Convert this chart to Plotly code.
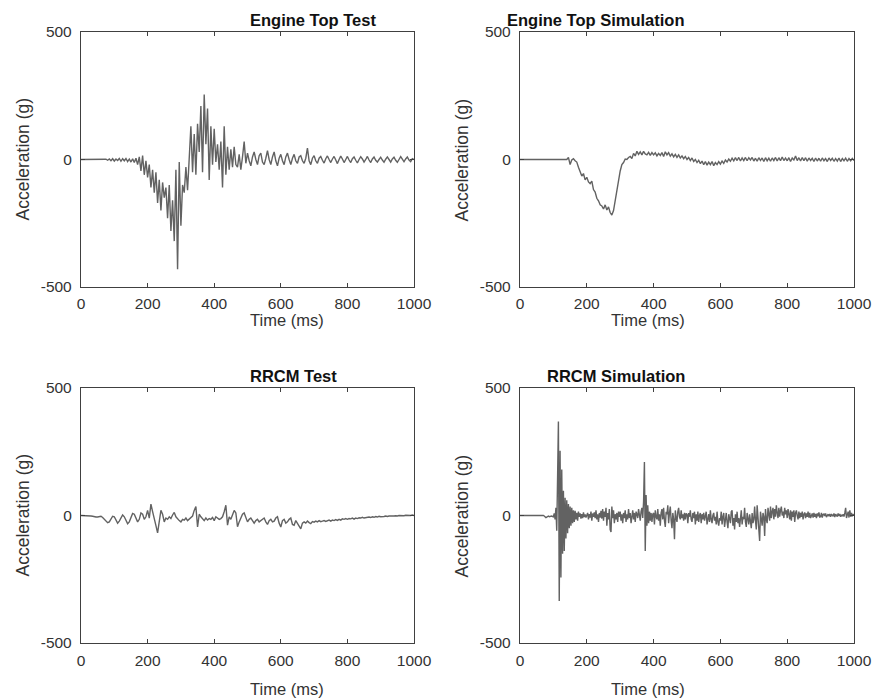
import numpy as np
import plotly.graph_objects as go

# time axis in ms (5 ms steps)
time_ms = list(range(0, 1001, 5))
# finer time axis for the RRCM simulation trace (2.5 ms steps)
time_ms_fine = [i * 2.5 for i in range(401)]

engine_top_test = [
    0, 0, 1, 0, 0, 1, 0, 0, 1, 0, 0, 1, 0, -1, 0, 1, -3, 2, -5, 3,
    -6, 2, -4, 4, -7, 3, -5, 4, -8, 2, -10, 3, -12, 5, -20, 10, -45, 15, -60, -5,
    -70, -20, -110, -40, -130, -50, -170, -80, -200, -90, -150, -110, -230, -100, -280, -160, -320, -40, -430, -10,
    -260, -100, -130, -30, -120, 30, 130, -50, 100, -60, 140, 30, 210, -50, 255, 60, 200, -80, 130, -20,
    120, -10, 60, -40, 70, -110, 130, -60, 50, -40, 40, -30, 50, -20, -30, 20, -40, 10, 70, -15,
    25, -5, -25, 10, 30, 0, -20, 15, 25, -10, -20, 5, 35, 0, -20, 10, 30, -5, -25, 5,
    20, -5, -20, 10, 25, 0, -20, 5, 20, -5, -15, 10, 15, -5, -15, 5, 45, -5, -20, 5,
    15, -5, -15, 5, 12, -3, -14, 3, 14, 0, -12, 2, 12, -2, -16, 0, 13, 2, -12, 0,
    12, -2, -12, 3, 10, -3, -13, 0, 11, 2, -10, 0, 12, -2, -12, 2, 10, -3, -10, 0,
    9, -2, -11, 1, 10, 0, -10, 2, 9, -3, -11, 0, 11, 1, -9, 2, 10, -2, -8, 3,
    0,
]

engine_top_sim = [
    0, 0, 0, 0, 0, 0, 0, 0, 0, 0, 0, 0, 0, 0, 0, 0, 0, 0, 0, 0,
    0, 0, 0, 0, 0, 0, 0, 0, 0, 8, -20, -2, 3, -5, -10, -30, -45, -65, -55, -80,
    -70, -88, -95, -85, -118, -128, -152, -162, -178, -182, -194, -178, -198, -186, -208, -218, -200, -160, -110, -70,
    -45, -20, -12, 2, 0, 8, 12, 4, 24, 14, 32, 20, 30, 18, 32, 22, 18, 28, 16, 27,
    18, 26, 14, 24, 16, 27, 12, 30, 18, 27, 13, 22, 10, 20, 8, 18, 6, 14, 3, 12,
    0, 8, -4, 6, -8, 0, -12, -3, -16, -6, -20, -8, -22, -10, -20, -8, -24, -12, -20, -8,
    -18, -6, -15, -2, -10, 2, -7, 5, -5, 7, -4, 8, -6, 6, -4, 8, -5, 7, -2, 8,
    -6, 5, -7, 7, -4, 6, -8, 7, -5, 5, -7, 6, -4, 8, -6, 7, -5, 10, -4, 6,
    -5, 7, -8, 6, -2, 14, -4, 7, -6, 8, -5, 7, -7, 6, -4, 5, -8, 6, -6, 5,
    -7, 6, -5, 4, -8, 6, -4, 5, -7, 4, -6, 6, -8, 4, -5, 5, -7, 4, -5, 4,
    -4,
]

rrcm_test = [
    0, 0, 0, 0, 0, -1, -2, -3, -5, -6, -6, -5, -3, -8, -15, -22, -28, -25, -12, -3,
    -5, -18, -30, -22, -8, 2, -5, -20, -32, -25, -5, 8, 5, -10, -25, -15, 10, 5, -15, -5,
    20, -10, 45, 15, -20, -40, -68, -20, 20, 5, -25, -10, -15, -5, -12, 2, 12, -5, -15, -20,
    -25, -15, -18, -10, -20, -15, -8, -2, 20, 35, -45, 5, -5, -15, -20, -10, -18, -12, -15, -8,
    -20, -5, -10, -15, -12, -5, 15, 40, -38, -5, -15, 5, 20, 10, -44, -25, -10, 5, 10, -5,
    -25, -15, -10, -20, -30, -20, -15, -25, -20, -15, -10, -25, -35, -20, -15, -25, -22, -10, -5, -30,
    -45, -20, -15, -30, -25, -15, -10, -35, -38, -20, -30, -45, -52, -30, -25, -30, -22, -28, -32, -24,
    -26, -22, -25, -20, -24, -22, -20, -23, -20, -18, -22, -18, -20, -16, -19, -15, -18, -13, -15, -12,
    -15, -12, -13, -10, -14, -10, -12, -9, -10, -7, -10, -8, -9, -6, -8, -5, -7, -4, -6, -3,
    -5, -3, -4, -2, -4, -2, -3, -1, -2, -1, -2, 0, -1, 0, -1, 1, 0, 1, 0, 2,
    0,
]

# RRCM simulation, 2.5 ms steps (40 values per 100 ms)
rrcm_sim = [
    0, 0, 0, 0, 0, 0, 0, 0, 0, 0, 0, 1, 0, 0, 0, 0, 0, -1, 0, 0,
    0, 0, 0, 0, 0, 0, 0, 0, 0, -2, -4, -8, -6, -3, -2, -5, -3, -1, -2, -4,
    -5, 8, -15, 30, -60, 150, 369, -335, 254, -243, 180, -150, 97, -139, 70, -90, 60, -70, 45, -50,
    35, -40, 30, -30, 20, -25, 18, -15, 10, -20, 15, -5, 8, -12, 5, -10, 12, -6, 4, -8,
    -2, 10, -15, 5, -8, 15, -20, 8, -5, 12, -10, 20, -15, 5, -25, 10, -8, 18, -12, 25,
    -20, 15, -5, 30, -40, 10, -15, 25, -55, -65, 35, -10, 20, -30, 5, -15, 10, -25, 15, -5,
    15, -20, 5, -30, 10, -10, 20, -25, 5, -15, 25, -10, 10, -30, -5, 20, -15, 10, -25, 15,
    5, -10, 25, -5, -20, 15, 30, -10, 55, 210, -139, 80, -40, 40, -30, 15, -20, 10, -25, 5,
    10, -35, 20, -5, -15, 25, -20, 5, -40, 10, 25, -15, 30, -20, -45, 15, 5, 40, -30, 10,
    35, -20, -50, 10, -15, -93, 20, -10, -25, 15, 30, -5, -15, 20, -10, 5, -20, 10, -15, 8,
    5, -30, 10, -5, 20, -15, -25, 10, -10, 15, -35, 5, -20, 15, -25, 0, 10, -30, 5, -15,
    10, -20, -5, 15, -35, -10, 5, -25, 20, -15, -30, 0, 10, -20, -5, -35, 15, -25, -40, -10,
    -20, 15, -35, -5, 10, -45, -15, 10, -25, -50, 5, -20, -30, 15, 20, -40, -10, -55, 5, -25,
    15, -30, -10, -45, -20, 20, -35, -5, -15, 30, -25, -45, 10, -20, -35, 5, -15, -50, 10, -30,
    -15, 35, -20, -55, 40, -10, -30, -100, 15, -20, -40, 10, -5, -80, 25, -15, -30, 30, 5, -20,
    35, -10, 15, 30, -15, 25, -5, 40, 10, -10, 30, -5, 20, 35, 0, 15, -10, 30, 5, 20,
    -10, 25, 5, -15, 20, -20, 15, -5, 20, -25, 10, 20, 0, -15, 15, -10, 10, -5, 15, -15,
    5, 12, -10, 8, -5, 15, -8, 10, -10, 5, 8, -8, 10, -5, 6, -10, 8, -3, 12, -6,
    -5, 10, -8, 4, 6, -2, 8, -6, 3, 5, -3, 6, -5, 4, 2, -3, 8, -6, 5, -2,
    -4, 8, -2, 6, -5, 3, -3, 5, -4, 10, 30, -10, 5, 15, -8, 20, -5, 10, -3, 5,
    0,
]

titles = ["Engine Top Test", "Engine Top Simulation", "RRCM Test", "RRCM Simulation"]
series = [engine_top_test, engine_top_sim, rrcm_test, rrcm_sim]
times = [time_ms, time_ms, time_ms, time_ms_fine]
x_ticks = [0, 200, 400, 600, 800, 1000]
y_ticks = [-500, 0, 500]
x_label = "Time (ms)"
y_label = "Acceleration (g)"

W, H = 876, 700
boxes = [  # left, right, top, bottom in pixels
    (81, 414, 32, 287),
    (520, 854, 32, 287),
    (81, 414, 388, 643),
    (520, 854, 388, 643),
]
title_y = [20, 20, 376, 376]
xlabel_y = [320, 320, 689, 689]
xtick_standoff = [2, 2, 3, 3]

fig = go.Figure()
font_family = "Liberation Sans, Arial, sans-serif"
axis_color = "#404040"
text_color = "#333333"
for i, (tx, vals, title, box) in enumerate(zip(times, series, titles, boxes)):
    n = i + 1
    xa = "x" if n == 1 else f"x{n}"
    ya = "y" if n == 1 else f"y{n}"
    fig.add_trace(go.Scatter(x=tx, y=vals, mode="lines",
                             line=dict(color="#626262", width=1.4),
                             xaxis=xa, yaxis=ya, showlegend=False))
    l, r, t, b = box
    xkey = "xaxis" if n == 1 else f"xaxis{n}"
    ykey = "yaxis" if n == 1 else f"yaxis{n}"
    common = dict(showline=True, linecolor=axis_color, linewidth=1.3, mirror="ticks",
                  ticks="inside", ticklen=4, tickcolor=axis_color, tickwidth=1,
                  showgrid=False, zeroline=False, automargin=False,
                  tickfont=dict(family=font_family, size=15.5, color=text_color))
    fig.update_layout(**{
        xkey: dict(domain=[l / W, r / W], anchor=ya, range=[0, 1000],
                   tickvals=x_ticks, ticktext=[str(v) for v in x_ticks],
                   ticklabelstandoff=xtick_standoff[i], **common),
        ykey: dict(domain=[1 - b / H, 1 - t / H], anchor=xa, range=[-500, 500],
                   tickvals=y_ticks, ticktext=[str(v) for v in y_ticks],
                   ticklabelstandoff=5, **common),
    })
    # subplot title
    fig.add_annotation(x=(l + r) / 2 / W, y=1 - title_y[i] / H,
                       xref="paper", yref="paper",
                       text=f"<b>{title}</b>", showarrow=False, yanchor="middle",
                       font=dict(family=font_family, size=16.5, color="#111111"))
    # x axis label
    fig.add_annotation(x=(l + r) / 2 / W, y=1 - xlabel_y[i] / H, xref="paper", yref="paper",
                       text=x_label, showarrow=False, yanchor="middle",
                       font=dict(family=font_family, size=16.5, color=text_color))
    # y axis label
    fig.add_annotation(x=(l - 59) / W, y=1 - (t + b) / 2 / H, xref="paper", yref="paper",
                       text=y_label, showarrow=False, textangle=-90,
                       xanchor="center", yanchor="middle",
                       font=dict(family=font_family, size=17.5, color=text_color))

fig.update_layout(width=W, height=H, margin=dict(l=0, r=0, t=0, b=0),
                  plot_bgcolor="white", paper_bgcolor="white")
fig.write_html("out.html", config={"displayModeBar": False},
               post_script="document.body.style.margin='0';document.body.style.padding='0';")
